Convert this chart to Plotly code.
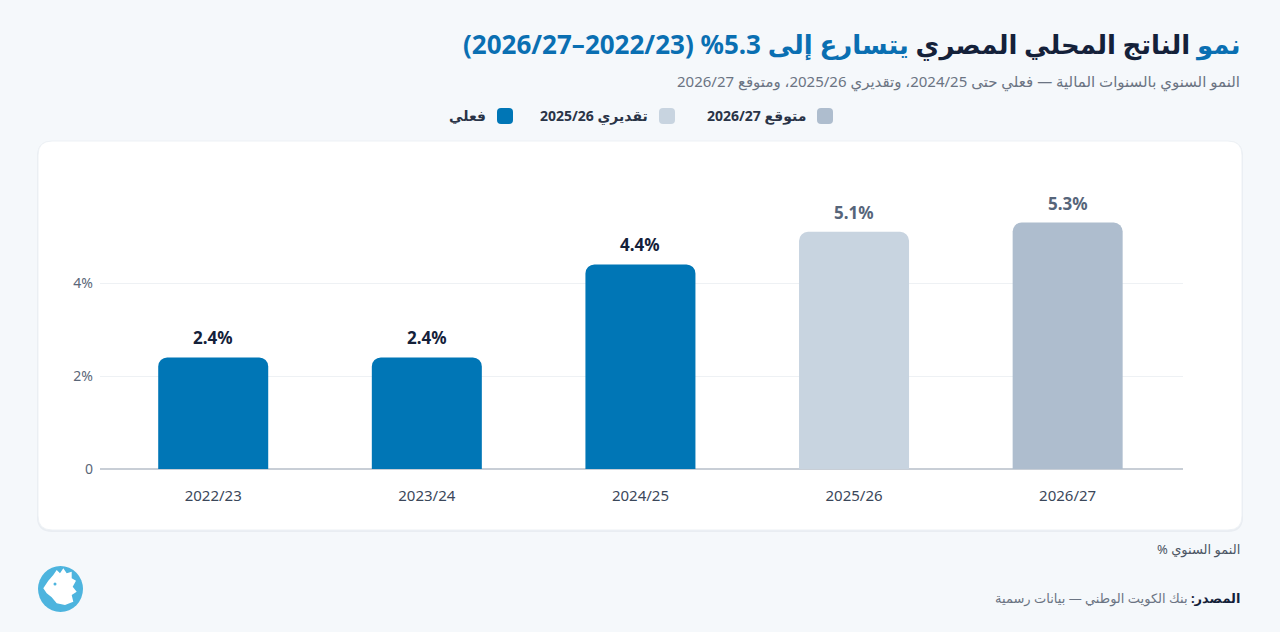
import plotly.graph_objects as go

# data
years = ['2022/23', '2023/24', '2024/25', '2025/26', '2026/27']
growth = [2.4, 2.4, 4.4, 5.1, 5.3]
status = ['actual', 'actual', 'actual', 'estimate', 'forecast']
y_ticks = [0, 2, 4]
y_tick_text = ['0', '2%', '4%']

colors = {'actual': '#0076B6', 'estimate': '#C8D4E0', 'forecast': '#AEBDCE'}
label_colors = {'actual': '#14213A', 'estimate': '#56657A', 'forecast': '#56657A'}
legend_items = [('فعلي', 'actual'), ('تقديري 2025/26', 'estimate'), ('متوقع 2026/27', 'forecast')]

RLE, PDF = '\u202b', '\u202c'
BLUE = '#0A6FB2'
NAVY = '#14213A'
BG = '#F5F8FB'
FONT = 'Noto Sans, DejaVu Sans, sans-serif'

W, H = 1280, 632
L, R, T, B = 100, 97, 190, 163
pw, ph = W - L - R, H - T - B


def px(x):
    return (x - L) / pw


def py(y):
    return (H - B - y) / ph


def rrect(x0, y0, x1, y1, r):
    # rounded rectangle in paper units, pixel inputs
    rx, ry = r / pw, r / ph
    a, b, c, d = px(x0), py(y1), px(x1), py(y0)
    return (f'M{a+rx},{b} L{c-rx},{b} Q{c},{b} {c},{b+ry} L{c},{d-ry} Q{c},{d} {c-rx},{d} '
            f'L{a+rx},{d} Q{a},{d} {a},{d-ry} L{a},{b+ry} Q{a},{b} {a+rx},{b} Z')


fig = go.Figure()
fig.add_trace(go.Bar(
    x=years, y=growth,
    marker=dict(color=[colors[s] for s in status], cornerradius=9, line=dict(width=0)),
    width=0.515, hoverinfo='skip'))

shapes = []
# card shadow + card
shapes.append(dict(type='path', xref='paper', yref='paper', path=rrect(37, 141, 1243, 532, 15),
                   fillcolor='rgba(20,40,70,0.05)', line=dict(width=0), layer='below'))
shapes.append(dict(type='path', xref='paper', yref='paper', path=rrect(38, 141, 1242, 530, 14),
                   fillcolor='white', line=dict(color='#EDF1F5', width=1), layer='below'))

annotations = []
# bar value labels
for yr, v, s in zip(years, growth, status):
    annotations.append(dict(x=yr, y=v, xref='x', yref='y', text=f'<b>{v}%</b>', showarrow=False,
                            yanchor='bottom', yshift=6,
                            font=dict(size=17, color=label_colors[s], family=FONT)))

# title
title = (f'{RLE}<span style="color:{BLUE}">نمو</span> <span style="color:{NAVY}">الناتج المحلي المصري</span> '
         f'<span style="color:{BLUE}">يتسارع إلى 5.3% (2022/23–2026/27)</span>{PDF}')
annotations.append(dict(x=px(1242), y=py(44), xref='paper', yref='paper', text=f'<b>{title}</b>',
                        showarrow=False, xanchor='right', yanchor='middle',
                        font=dict(size=26, family=FONT, color=BLUE)))
annotations.append(dict(x=px(1242), y=py(81), xref='paper', yref='paper',
                        text=RLE + 'النمو السنوي بالسنوات المالية — فعلي حتى 2024/25، وتقديري 2025/26، ومتوقع 2026/27' + PDF,
                        showarrow=False, xanchor='right', yanchor='middle',
                        font=dict(size=15, family=FONT, color='#6B7483')))

# legend (right to left)
legend_x = [513, 675, 833]
for (lbl, key), xr in zip(legend_items, legend_x):
    shapes.append(dict(type='path', xref='paper', yref='paper', path=rrect(xr - 16, 108, xr, 124, 4),
                       fillcolor=colors[key], line=dict(width=0)))
    annotations.append(dict(x=px(xr - 25), y=py(116), xref='paper', yref='paper',
                            text=f'<b>{RLE}{lbl}{PDF}</b>', showarrow=False, xanchor='right', yanchor='middle',
                            font=dict(size=14, family=FONT, color='#2A3447')))

# unit note and source
annotations.append(dict(x=px(1242), y=py(549), xref='paper', yref='paper', text=RLE + 'النمو السنوي %' + PDF,
                        showarrow=False, xanchor='right', yanchor='middle',
                        font=dict(size=13, family=FONT, color='#4B5563')))
annotations.append(dict(x=px(1242), y=py(598), xref='paper', yref='paper',
                        text=f'{RLE}<b><span style="color:{NAVY}">المصدر:</span></b> بنك الكويت الوطني — بيانات رسمية{PDF}',
                        showarrow=False, xanchor='right', yanchor='middle',
                        font=dict(size=13, family=FONT, color='#6B7483')))

# logo: blue disc with a white rooster head
shapes.append(dict(type='circle', xref='paper', yref='paper', x0=px(38), x1=px(83), y0=py(612), y1=py(566),
                   fillcolor='#4DB4DE', line=dict(width=0)))
rooster = [(43.3, 588.3), (48.3, 580.7), (53.3, 575), (56.7, 570), (60, 573.3), (63.3, 568.3), (66.7, 573.3),
           (71.7, 571.7), (71.7, 578.3), (76, 580.7), (72.7, 586.7), (76.7, 591.7), (71.7, 595),
           (73.3, 601.7), (65, 605), (56.7, 603.3), (51.7, 597.3), (46.7, 593.3)]
path = 'M' + ' L'.join(f'{px(a)},{py(b)}' for a, b in rooster) + ' Z'
shapes.append(dict(type='path', xref='paper', yref='paper', path=path, fillcolor='white', line=dict(width=0)))
shapes.append(dict(type='circle', xref='paper', yref='paper', x0=px(53.5), x1=px(56.5), y0=py(585.5), y1=py(582.5),
                   fillcolor='#4DB4DE', line=dict(width=0)))

fig.update_layout(
    width=W, height=H,
    margin=dict(l=L, r=R, t=T, b=B),
    paper_bgcolor=BG, plot_bgcolor='rgba(0,0,0,0)',
    showlegend=False, bargap=0.3,
    font=dict(family=FONT),
    shapes=shapes, annotations=annotations,
    xaxis=dict(range=[-0.53, 4.54], showgrid=False, showline=False, ticks='',
               tickfont=dict(size=15, color='#3B475A', family=FONT), ticklabelstandoff=16),
    yaxis=dict(range=[0, 6], tickvals=y_ticks, ticktext=y_tick_text, showgrid=True,
               gridcolor='#EEF1F4', gridwidth=1, zeroline=True, zerolinecolor='#C8CED6', zerolinewidth=2,
               showline=False, ticks='', tickfont=dict(size=14, color='#5A6678', family=FONT),
               ticklabelstandoff=6),
)

fig.write_html('out.html', config={'displayModeBar': False},
               post_script=f"document.body.style.margin='0';document.body.style.background='{BG}';")
